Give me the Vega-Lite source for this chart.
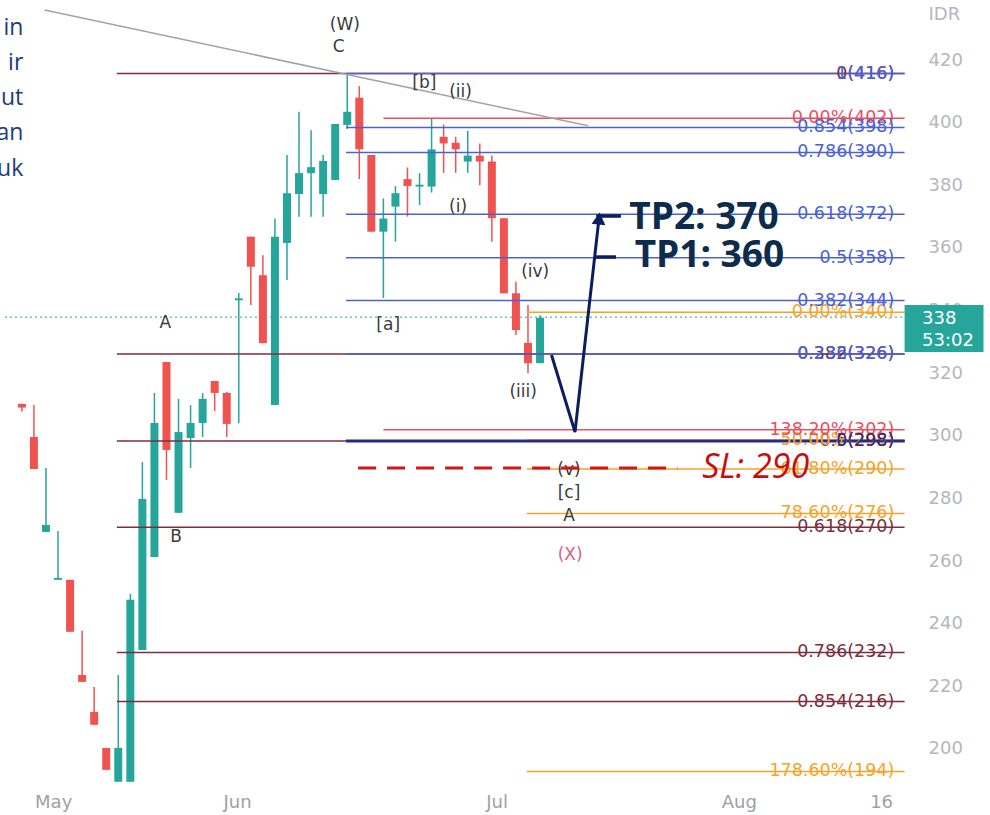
{
  "$schema": "https://vega.github.io/schema/vega-lite/v6.json",
  "width": 915,
  "height": 788,
  "autosize": {"type": "none"},
  "padding": {"left": 0, "top": 0, "right": 75, "bottom": 27},
  "background": "white",
  "config": {"view": {"stroke": null}},
  "datasets": {
    "candles": [
      {"x":0,"o":310.2,"h":310.2,"l":307.8,"c":309.0},
      {"x":1,"o":299.6,"h":309.8,"l":289.4,"c":289.4},
      {"x":2,"o":269.3,"h":289.7,"l":269.3,"c":271.5},
      {"x":3,"o":254.0,"h":269.6,"l":254.0,"c":254.6},
      {"x":4,"o":254.0,"h":254.0,"l":237.4,"c":237.4},
      {"x":5,"o":223.6,"h":237.7,"l":221.4,"c":221.4},
      {"x":6,"o":211.8,"h":219.8,"l":207.7,"c":207.7},
      {"x":7,"o":200.3,"h":200.3,"l":193.3,"c":193.3},
      {"x":8,"o":189.5,"h":223.6,"l":189.5,"c":200.3},
      {"x":9,"o":189.5,"h":249.5,"l":189.5,"c":247.6},
      {"x":10,"o":231.6,"h":291.6,"l":231.6,"c":279.8},
      {"x":11,"o":261.3,"h":313.7,"l":261.3,"c":304.1},
      {"x":12,"o":323.6,"h":323.6,"l":285.9,"c":295.5},
      {"x":13,"o":275.4,"h":311.8,"l":275.4,"c":301.2},
      {"x":14,"o":299.3,"h":309.8,"l":289.7,"c":304.1},
      {"x":15,"o":304.1,"h":313.7,"l":299.6,"c":311.8},
      {"x":16,"o":317.5,"h":317.5,"l":307.9,"c":313.7},
      {"x":17,"o":313.7,"h":314.0,"l":299.6,"c":303.8},
      {"x":18,"o":343.3,"h":345.6,"l":304.0,"c":343.9},
      {"x":19,"o":363.6,"h":363.6,"l":341.8,"c":354.0},
      {"x":20,"o":351.3,"h":357.7,"l":329.6,"c":329.6},
      {"x":21,"o":309.8,"h":369.4,"l":309.8,"c":363.6},
      {"x":22,"o":361.6,"h":389.7,"l":349.8,"c":377.5},
      {"x":23,"o":377.2,"h":403.5,"l":370.0,"c":383.9},
      {"x":24,"o":383.9,"h":397.6,"l":370.0,"c":385.8},
      {"x":25,"o":377.2,"h":389.7,"l":370.0,"c":387.8},
      {"x":26,"o":381.7,"h":399.6,"l":381.7,"c":399.6},
      {"x":27,"o":399.3,"h":415.4,"l":398.0,"c":403.5},
      {"x":28,"o":408.0,"h":411.7,"l":382.0,"c":391.5},
      {"x":29,"o":389.7,"h":389.7,"l":365.2,"c":365.2},
      {"x":30,"o":365.2,"h":375.8,"l":344.0,"c":369.4},
      {"x":31,"o":373.2,"h":379.8,"l":362.0,"c":377.5},
      {"x":32,"o":382.0,"h":385.7,"l":370.0,"c":379.8},
      {"x":33,"o":379.6,"h":383.9,"l":373.7,"c":380.2},
      {"x":34,"o":379.6,"h":401.3,"l":377.7,"c":391.5},
      {"x":35,"o":395.5,"h":399.4,"l":384.0,"c":393.4},
      {"x":36,"o":393.6,"h":395.5,"l":384.0,"c":391.5},
      {"x":37,"o":387.6,"h":397.4,"l":384.0,"c":389.5},
      {"x":38,"o":389.5,"h":393.4,"l":380.0,"c":387.6},
      {"x":39,"o":387.6,"h":389.5,"l":362.0,"c":369.5},
      {"x":40,"o":369.5,"h":369.5,"l":345.5,"c":345.5},
      {"x":41,"o":345.5,"h":349.2,"l":332.2,"c":333.8},
      {"x":42,"o":329.7,"h":341.8,"l":320.0,"c":323.2},
      {"x":43,"o":323.2,"h":338.5,"l":323.2,"c":337.7}
    ],
    "levels": [
      {"tool":"A","y":415.7,"x":7.88,"x2":73.25},
      {"tool":"A","y":326.1,"x":7.88,"x2":73.25},
      {"tool":"A","y":298.3,"x":7.88,"x2":73.25},
      {"tool":"A","y":270.8,"x":7.88,"x2":73.25},
      {"tool":"A","y":230.8,"x":7.88,"x2":73.25},
      {"tool":"A","y":215.1,"x":7.88,"x2":73.25},
      {"tool":"D","y":339.5,"x":41.9,"x2":73.25},
      {"tool":"D","y":298.6,"x":41.9,"x2":73.25},
      {"tool":"D","y":289.4,"x":41.9,"x2":73.25},
      {"tool":"D","y":275.2,"x":41.9,"x2":73.25},
      {"tool":"D","y":192.8,"x":41.9,"x2":73.25},
      {"tool":"C","y":401.4,"x":30.0,"x2":73.25},
      {"tool":"C","y":301.9,"x":30.0,"x2":73.25},
      {"tool":"B","y":415.7,"x":26.9,"x2":73.25},
      {"tool":"B","y":398.5,"x":26.9,"x2":73.25},
      {"tool":"B","y":390.5,"x":26.9,"x2":73.25},
      {"tool":"B","y":370.8,"x":26.9,"x2":73.25},
      {"tool":"B","y":356.9,"x":26.9,"x2":73.25},
      {"tool":"B","y":343.2,"x":26.9,"x2":73.25},
      {"tool":"B","y":326.1,"x":26.9,"x2":73.25},
      {"tool":"B0","y":298.3,"x":26.9,"x2":73.25}
    ],
    "levelLabels": [
      {"tool":"A","y":415.7,"t":"0(416)"},
      {"tool":"A","y":326.1,"t":"0.382(326)"},
      {"tool":"A","y":298.3,"t":"0.5(298)"},
      {"tool":"A","y":270.8,"t":"0.618(270)"},
      {"tool":"A","y":230.8,"t":"0.786(232)"},
      {"tool":"A","y":215.1,"t":"0.854(216)"},
      {"tool":"D","y":339.5,"t":"0.00%(340)"},
      {"tool":"D","y":298.6,"t":"50.00%(299)"},
      {"tool":"D","y":289.4,"t":"61.80%(290)"},
      {"tool":"D","y":275.2,"t":"78.60%(276)"},
      {"tool":"D","y":192.8,"t":"178.60%(194)"},
      {"tool":"C","y":401.4,"t":"0.00%(402)"},
      {"tool":"C","y":301.9,"t":"138.20%(302)"},
      {"tool":"B","y":415.7,"t":"1(416)"},
      {"tool":"B","y":398.5,"t":"0.854(398)"},
      {"tool":"B","y":390.5,"t":"0.786(390)"},
      {"tool":"B","y":370.8,"t":"0.618(372)"},
      {"tool":"B","y":356.9,"t":"0.5(358)"},
      {"tool":"B","y":343.2,"t":"0.382(344)"},
      {"tool":"B","y":326.1,"t":"0.236(326)"},
      {"tool":"B0","y":298.3,"t":"0(298)"}
    ],
    "trend": [{"x":1.89,"y":436.0,"x2":47.0,"y2":399.0}],
    "price": [{"x":-1.4,"x2":73.25,"y":337.9}],
    "priceBox": [{"x":73.25,"x2":79.8,"y":326.8,"y2":341.8}],
    "priceText": [{"x":74.7,"y":337.4,"t":"338"},{"x":74.7,"y":330.4,"t":"53:02"}],
    "waves": [
      {"x":26.8,"y":431.2,"t":"(W)"},
      {"x":26.3,"y":424.2,"t":"C"},
      {"x":33.4,"y":412.7,"t":"[b]"},
      {"x":36.4,"y":409.8,"t":"(ii)"},
      {"x":36.2,"y":373.1,"t":"(i)"},
      {"x":30.4,"y":335.4,"t":"[a]"},
      {"x":11.9,"y":336.0,"t":"A"},
      {"x":12.8,"y":267.7,"t":"B"},
      {"x":42.6,"y":352.3,"t":"(iv)"},
      {"x":41.6,"y":314.0,"t":"(iii)"},
      {"x":45.4,"y":289.1,"t":"(v)"},
      {"x":45.4,"y":281.7,"t":"[c]"},
      {"x":45.4,"y":274.4,"t":"A"}
    ],
    "waveX": [{"x":45.5,"y":261.9,"t":"(X)"}],
    "note": [
      {"x":0.12,"y":428.0,"t":"in"},
      {"x":0.12,"y":416.8,"t":"ir"},
      {"x":0.12,"y":405.7,"t":"ut"},
      {"x":0.12,"y":394.5,"t":"an"},
      {"x":0.12,"y":383.0,"t":"uk"}
    ],
    "arrow": [
      {"x":43.95,"y":325.8,"o":1},
      {"x":45.9,"y":301.2,"o":2},
      {"x":47.85,"y":368.0,"o":3}
    ],
    "arrowHead": [{"x":47.9,"y":369.4}],
    "tpMarks": [
      {"x":47.66,"x2":49.71,"y":370.2},
      {"x":47.5,"x2":49.3,"y":357.1}
    ],
    "tpText": [
      {"x":50.4,"y":369.7,"t":"TP2: 370"},
      {"x":50.85,"y":357.5,"t":"TP1: 360"}
    ],
    "slLine": [{"x":27.9,"x2":54.4,"y":289.7}],
    "slText": [{"x":56.45,"y":289.7,"t":"SL: 290"}]
  },
  "layer": [
    {
      "data": {"name": "price"},
      "mark": {"type": "rule", "color": "#26a69a", "strokeWidth": 1, "strokeDash": [2, 3]},
      "encoding": {
        "x": {
          "field": "x", "type": "quantitative",
          "scale": {"domain": [-1.4, 73.7], "nice": false, "zero": false},
          "axis": {
            "orient": "bottom", "values": [2.6, 17.85, 39.4, 59.5, 71.3],
            "labelExpr": "datum.value < 10 ? 'May' : datum.value < 30 ? 'Jun' : datum.value < 50 ? 'Jul' : datum.value < 65 ? 'Aug' : '16'",
            "domain": false, "ticks": false, "grid": false,
            "labelFont": "DejaVu Sans", "labelFontSize": 18, "labelColor": "#9ea1a8",
            "labelPadding": 5, "title": null
          }
        },
        "x2": {"field": "x2"},
        "y": {
          "field": "y", "type": "quantitative",
          "scale": {"domain": [187.5, 439.2], "nice": false, "zero": false},
          "axis": {
            "orient": "right", "values": [200,220,240,260,280,300,320,340,360,380,400,420],
            "domain": false, "ticks": false, "grid": false,
            "labelFont": "DejaVu Sans", "labelFontSize": 18, "labelColor": "#b4b7bf",
            "labelPadding": 13,
            "title": "IDR", "titleAngle": 0, "titleX": 13, "titleY": 14,
            "titleAlign": "left", "titleBaseline": "middle", "titleFont": "DejaVu Sans",
            "titleFontSize": 18, "titleFontWeight": "normal", "titleColor": "#b4b7bf"
          }
        }
      }
    },
    {
      "data": {"name": "candles"},
      "mark": {"type": "rule", "strokeWidth": 1.5},
      "encoding": {
        "x": {"field": "x", "type": "quantitative"},
        "y": {"field": "l", "type": "quantitative"},
        "y2": {"field": "h"},
        "color": {"condition": {"test": "datum.c >= datum.o", "value": "#26a69a"}, "value": "#ef5350"}
      }
    },
    {
      "data": {"name": "candles"},
      "mark": {"type": "bar", "size": 8},
      "encoding": {
        "x": {"field": "x", "type": "quantitative"},
        "y": {"field": "o", "type": "quantitative"},
        "y2": {"field": "c"},
        "color": {"condition": {"test": "datum.c >= datum.o", "value": "#26a69a"}, "value": "#ef5350"}
      }
    },
    {
      "data": {"name": "levels"},
      "mark": {"type": "rule", "strokeWidth": 1.5},
      "encoding": {
        "x": {"field": "x", "type": "quantitative"},
        "x2": {"field": "x2"},
        "y": {"field": "y", "type": "quantitative"},
        "color": {"field": "tool", "type": "nominal", "legend": null,
          "scale": {"domain": ["A","B","B0","C","D"], "range": ["#7d2e3e","#4a62d6","#272a86","#e8505f","#f5a32a"]}}
      }
    },
    {
      "data": {"name": "levels"},
      "transform": [{"filter": "datum.tool == 'B0'"}],
      "mark": {"type": "rule", "strokeWidth": 3, "color": "#272a86"},
      "encoding": {
        "x": {"field": "x", "type": "quantitative"},
        "x2": {"field": "x2"},
        "y": {"field": "y", "type": "quantitative"}
      }
    },
    {
      "data": {"name": "levelLabels"},
      "mark": {"type": "text", "align": "right", "baseline": "middle", "font": "DejaVu Sans", "fontSize": 17.5},
      "encoding": {
        "x": {"datum": 72.4},
        "y": {"field": "y", "type": "quantitative"},
        "text": {"field": "t"},
        "color": {"field": "tool", "type": "nominal", "legend": null}
      }
    },
    {
      "data": {"name": "trend"},
      "mark": {"type": "rule", "color": "#a3a3a3", "strokeWidth": 1.5},
      "encoding": {
        "x": {"field": "x", "type": "quantitative"},
        "x2": {"field": "x2"},
        "y": {"field": "y", "type": "quantitative"},
        "y2": {"field": "y2"}
      }
    },
    {
      "data": {"name": "waves"},
      "mark": {"type": "text", "align": "center", "baseline": "middle", "font": "DejaVu Sans", "fontSize": 17, "color": "#3a3a3a"},
      "encoding": {
        "x": {"field": "x", "type": "quantitative"},
        "y": {"field": "y", "type": "quantitative"},
        "text": {"field": "t"}
      }
    },
    {
      "data": {"name": "waveX"},
      "mark": {"type": "text", "align": "center", "baseline": "middle", "font": "DejaVu Sans", "fontSize": 17, "color": "#e0607a"},
      "encoding": {
        "x": {"field": "x", "type": "quantitative"},
        "y": {"field": "y", "type": "quantitative"},
        "text": {"field": "t"}
      }
    },
    {
      "data": {"name": "note"},
      "mark": {"type": "text", "align": "right", "baseline": "alphabetic", "font": "Open Sans", "fontSize": 23, "color": "#1d3c78"},
      "encoding": {
        "x": {"field": "x", "type": "quantitative"},
        "y": {"field": "y", "type": "quantitative"},
        "text": {"field": "t"}
      }
    },
    {
      "data": {"name": "slLine"},
      "mark": {"type": "rule", "color": "#d0161a", "strokeWidth": 3, "strokeDash": [18, 11]},
      "encoding": {
        "x": {"field": "x", "type": "quantitative"},
        "x2": {"field": "x2"},
        "y": {"field": "y", "type": "quantitative"}
      }
    },
    {
      "data": {"name": "arrow"},
      "mark": {"type": "line", "color": "#0b1d5e", "strokeWidth": 3, "strokeJoin": "miter"},
      "encoding": {
        "x": {"field": "x", "type": "quantitative"},
        "y": {"field": "y", "type": "quantitative"},
        "order": {"field": "o", "type": "quantitative"}
      }
    },
    {
      "data": {"name": "arrowHead"},
      "mark": {"type": "point", "shape": "triangle-up", "filled": true, "size": 190, "angle": 6, "color": "#0b1d5e", "opacity": 1},
      "encoding": {
        "x": {"field": "x", "type": "quantitative"},
        "y": {"field": "y", "type": "quantitative"}
      }
    },
    {
      "data": {"name": "tpMarks"},
      "mark": {"type": "rule", "color": "#0b1d5e", "strokeWidth": 3.5},
      "encoding": {
        "x": {"field": "x", "type": "quantitative"},
        "x2": {"field": "x2"},
        "y": {"field": "y", "type": "quantitative"}
      }
    },
    {
      "data": {"name": "tpText"},
      "mark": {"type": "text", "align": "left", "baseline": "middle", "font": "Open Sans", "fontSize": 37, "fontWeight": "bold", "color": "#0d2b4b"},
      "encoding": {
        "x": {"field": "x", "type": "quantitative"},
        "y": {"field": "y", "type": "quantitative"},
        "text": {"field": "t"}
      }
    },
    {
      "data": {"name": "slText"},
      "mark": {"type": "text", "align": "left", "baseline": "middle", "font": "Open Sans", "fontSize": 34, "fontStyle": "italic", "color": "#c80d10"},
      "encoding": {
        "x": {"field": "x", "type": "quantitative"},
        "y": {"field": "y", "type": "quantitative"},
        "text": {"field": "t"}
      }
    },
    {
      "data": {"name": "priceBox"},
      "mark": {"type": "rect", "color": "#26a69a"},
      "encoding": {
        "x": {"field": "x", "type": "quantitative"},
        "x2": {"field": "x2"},
        "y": {"field": "y", "type": "quantitative"},
        "y2": {"field": "y2"}
      }
    },
    {
      "data": {"name": "priceText"},
      "mark": {"type": "text", "align": "left", "baseline": "middle", "font": "DejaVu Sans", "fontSize": 18, "color": "#ffffff"},
      "encoding": {
        "x": {"field": "x", "type": "quantitative"},
        "y": {"field": "y", "type": "quantitative"},
        "text": {"field": "t"}
      }
    }
  ]
}
